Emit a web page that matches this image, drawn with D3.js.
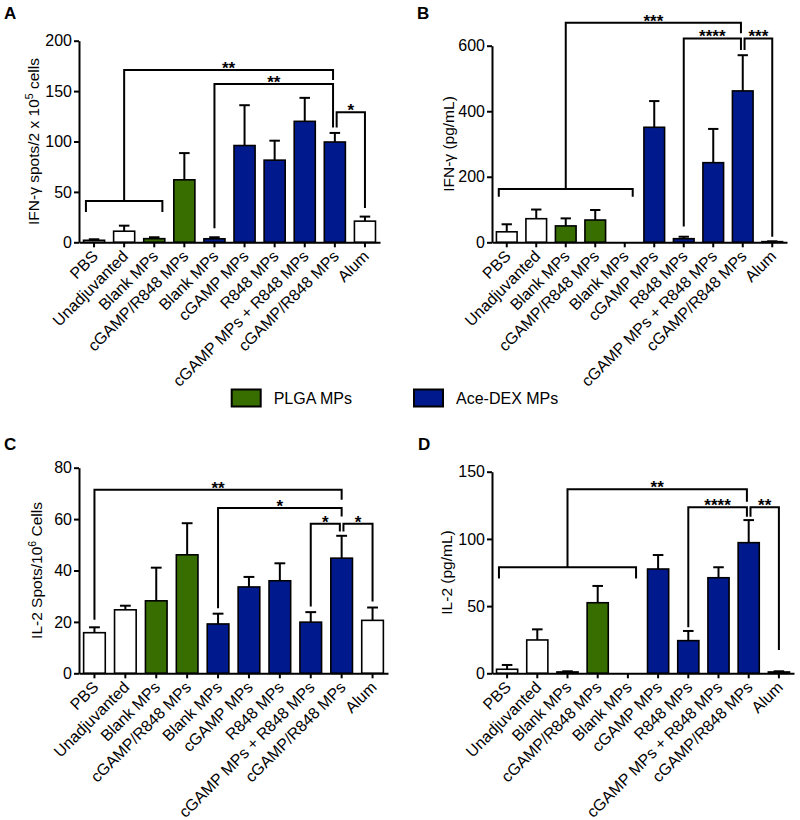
<!DOCTYPE html>
<html><head><meta charset="utf-8">
<script src="https://cdn.jsdelivr.net/npm/d3@7"></script>
<style>
body{margin:0;background:#fff}
svg{display:block}
text{font-family:"Liberation Sans",Arial,Helvetica,sans-serif;fill:#000}
</style>
</head><body><svg id="chart" width="800" height="820"></svg>
<script>
// ---------- data ----------
const categories = ["PBS","Unadjuvanted","Blank MPs","cGAMP/R848 MPs","Blank MPs","cGAMP MPs","R848 MPs","cGAMP MPs + R848 MPs","cGAMP/R848 MPs","Alum"];
const formulation = ["none","none","PLGA","PLGA","AceDEX","AceDEX","AceDEX","AceDEX","AceDEX","none"];
const legendKeys = ["PLGA","AceDEX"];
const legendLabels = ["PLGA MPs","Ace-DEX MPs"];

// Panel A: IFN-γ ELISpot
const ifnSpotsMean = [2, 11, 3.6, 62, 3.5, 96, 81.5, 120, 99.5, 21];
const ifnSpotsSem  = [1, 5.5, 1.4, 26.5, 1.5, 40, 19.3, 23.3, 9, 4.5];
const ifnSpotsTicks = [0, 50, 100, 150, 200];
const ifnSpotsGroups = [{from:0, to:2, level:41, drop:30}];
const ifnSpotsSig = [
  {from:1, to:8, level:171, dropFrom:41, dropTo:161, label:"**", nudgeTo:-1},
  {from:4, to:8, level:157, dropFrom:14, dropTo:114, label:"**", nudgeTo:-1},
  {from:8, to:9, level:129, dropFrom:114, dropTo:34, label:"*", nudgeFrom:1}
];

// Panel B: IFN-γ ELISA
const ifnConcMean = [32, 72, 50, 68, 0, 351, 11, 243, 462, 2];
const ifnConcSem  = [23, 28, 23, 30.6, 0, 80, 6, 103, 109, 1];
const ifnConcTicks = [0, 200, 400, 600];
const ifnConcGroups = [{from:0, to:4, level:163, drop:139}];
const ifnConcSig = [
  {from:2, to:8, level:670, dropFrom:163, dropTo:638, label:"***", nudgeTo:-1},
  {from:6, to:8, level:622, dropFrom:48, dropTo:587, label:"****", nudgeTo:-1},
  {from:8, to:9, level:622, dropFrom:587, dropTo:17, label:"***", nudgeFrom:1}
];

// Panel C: IL-2 ELISpot
const il2SpotsMean = [15.8, 24.7, 28.2, 46.1, 19.2, 33.6, 36, 19.9, 44.8, 20.6];
const il2SpotsSem  = [2.1, 1.6, 12.9, 12.3, 4, 3.9, 6.8, 3.9, 8.7, 5];
const il2SpotsTicks = [0, 20, 40, 60, 80];
const il2SpotsGroups = [];
const il2SpotsSig = [
  {from:0, to:8, level:71.4, dropFrom:20.8, dropTo:67.5, label:"**"},
  {from:4, to:8, level:64.3, dropFrom:25.3, dropTo:61, label:"*"},
  {from:7, to:8, level:58.2, dropFrom:26, dropTo:55.2, label:"*", nudgeTo:-1},
  {from:8, to:9, level:58.2, dropFrom:55.2, dropTo:27.9, label:"*", nudgeFrom:1}
];

// Panel D: IL-2 ELISA
const il2ConcMean = [3, 24.8, 1, 52.5, 0, 77.6, 24.3, 71.1, 97.2, 1];
const il2ConcSem  = [3.2, 7.9, 0.5, 12.5, 0, 10.4, 7.2, 7.8, 16.8, 0.5];
const il2ConcTicks = [0, 50, 100, 150];
const il2ConcGroups = [{from:0, to:4, level:78.9, drop:70.5}];
const il2ConcSig = [
  {from:2, to:8, level:137, dropFrom:78.9, dropTo:127.7, label:"**", nudgeTo:-1},
  {from:6, to:8, level:123.5, dropFrom:34.2, dropTo:116.5, label:"****", nudgeTo:-1},
  {from:8, to:9, level:123.5, dropFrom:116.5, dropTo:17.3, label:"**", nudgeFrom:1}
];

// ---------- layout ----------
const colors = {none:"#ffffff", PLGA:"#386e00", AceDEX:"#001a8e"};
const panels = [
  {letter:"A", lx:4, ly:19, x0:79, x1:380, yb:242.3, yt:40.7, max:200, ticks:ifnSpotsTicks,
   mean:ifnSpotsMean, sem:ifnSpotsSem, groups:ifnSpotsGroups, sig:ifnSpotsSig, titleX:38.5,
   title:[["IFN-γ spots/2 x 10",0],["5",1],[" cells",0]]},
  {letter:"B", lx:417, ly:18.5, x0:492, x1:787, yb:242.3, yt:45.7, max:600, ticks:ifnConcTicks,
   mean:ifnConcMean, sem:ifnConcSem, groups:ifnConcGroups, sig:ifnConcSig, titleX:453.5,
   title:[["IFN-γ (pg/mL)",0]]},
  {letter:"C", lx:4, ly:449.5, x0:79, x1:388, yb:673.3, yt:467.7, max:80, ticks:il2SpotsTicks,
   mean:il2SpotsMean, sem:il2SpotsSem, groups:il2SpotsGroups, sig:il2SpotsSig, titleX:42,
   title:[["IL-2 Spots/10",0],["6",1],[" Cells",0]]},
  {letter:"D", lx:418, ly:450, x0:492, x1:794, yb:673.3, yt:471.7, max:150, ticks:il2ConcTicks,
   mean:il2ConcMean, sem:il2ConcSem, groups:il2ConcGroups, sig:il2ConcSig, titleX:452,
   title:[["IL-2 (pg/mL)",0]]}
];

const svg = d3.select("#chart");
const idx = d3.range(categories.length);

panels.forEach(p => {
  const g = svg.append("g");
  const x = d3.scaleBand().domain(idx).range([p.x0, p.x1]).paddingInner(0.3).paddingOuter(0.15);
  const y = d3.scaleLinear().domain([0, p.max]).range([p.yb, p.yt]);
  const step = x.step(), bw = x.bandwidth();
  const cx = i => p.x0 + (i + 0.5) * step;

  // bars
  g.selectAll("rect.bar").data(idx).join("rect")
    .attr("x", i => x(i)).attr("width", bw)
    .attr("y", i => y(p.mean[i])).attr("height", i => y(0) - y(p.mean[i]))
    .attr("fill", i => colors[formulation[i]])
    .attr("stroke", "#000").attr("stroke-width", 1.6);

  // error bars (upper)
  const eb = g.selectAll("g.err").data(idx.filter(i => p.mean[i] > 0)).join("g");
  eb.append("line").attr("x1", cx).attr("x2", cx)
    .attr("y1", i => y(p.mean[i])).attr("y2", i => y(p.mean[i] + p.sem[i]))
    .attr("stroke", "#000").attr("stroke-width", 2);
  eb.append("line").attr("x1", i => cx(i) - bw * 0.25).attr("x2", i => cx(i) + bw * 0.25)
    .attr("y1", i => y(p.mean[i] + p.sem[i])).attr("y2", i => y(p.mean[i] + p.sem[i]))
    .attr("stroke", "#000").attr("stroke-width", 2);

  // axes
  const ya = g.append("g").attr("transform", `translate(${p.x0},0)`)
    .call(d3.axisLeft(y).tickValues(p.ticks).tickSize(5).tickPadding(2).tickSizeOuter(0));
  ya.select(".domain").attr("stroke-width", 2);
  ya.selectAll(".tick line").attr("stroke-width", 2);
  ya.selectAll(".tick text").style("font-size", "16px").attr("fill", "#000");

  const xa = g.append("g").attr("transform", `translate(0,${p.yb})`)
    .call(d3.axisBottom(x).tickFormat(i => categories[i]).tickSize(5).tickSizeOuter(0));
  xa.select(".domain").attr("stroke-width", 2);
  xa.selectAll(".tick line").attr("stroke-width", 2);
  xa.selectAll(".tick text").style("font-size", "16px").attr("fill", "#000")
    .attr("text-anchor", "end").attr("y", 0).attr("dy", 0)
    .attr("transform", "translate(5,15) rotate(-45)");

  // y title
  const t = g.append("text").attr("transform", `translate(${p.titleX},${(p.yb + p.yt) / 2}) rotate(-90)`)
    .attr("text-anchor", "middle").style("font-size", "15.5px");
  p.title.forEach(([s, sup]) => {
    t.append("tspan").text(s).style("font-size", sup ? "10.5px" : "15.5px")
      .attr("dy", sup ? -6 : (s.startsWith(" ") ? 6 : 0));
  });

  // panel letter
  g.append("text").attr("x", p.lx).attr("y", p.ly).text(p.letter)
    .style("font-size", "17px").style("font-weight", "bold");

  // group brackets
  const ann = g.append("g").attr("fill", "none").attr("stroke", "#000").attr("stroke-width", 2);
  p.groups.forEach(gr => {
    const xa0 = cx(gr.from) - step * 0.27, xa1 = cx(gr.to) + step * 0.27;
    ann.append("path").attr("d",
      `M${xa0},${y(gr.drop)}V${y(gr.level)}H${xa1}V${y(gr.drop)}`);
  });
  // significance brackets
  p.sig.forEach(s => {
    const xs0 = cx(s.from) + (s.nudgeFrom || 0) * 1.8;
    const xs1 = cx(s.to) + (s.nudgeTo || 0) * 1.8;
    ann.append("path").attr("d",
      `M${xs0},${y(s.dropFrom)}V${y(s.level)}H${xs1}V${y(s.dropTo)}`);
    g.append("text").attr("x", (xs0 + xs1) / 2).attr("y", y(s.level) + 4)
      .attr("text-anchor", "middle").style("font-size", "17px").style("font-weight", "bold")
      .text(s.label);
  });
});

// legend
const leg = svg.append("g");
const legX = [231.7, 414];
legendKeys.forEach((k, i) => {
  leg.append("rect").attr("x", legX[i]).attr("y", 389.5).attr("width", 29).attr("height", 17)
    .attr("fill", colors[k]).attr("stroke", "#000").attr("stroke-width", 2);
  leg.append("text").attr("x", legX[i] + 42).attr("y", 404).text(legendLabels[i])
    .style("font-size", "16px");
});
</script>
</body></html>
